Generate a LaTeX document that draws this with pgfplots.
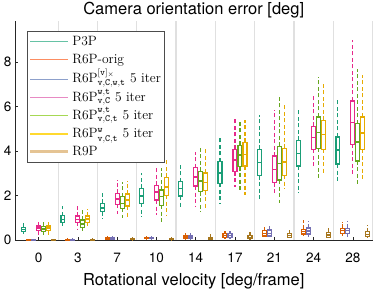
\documentclass[border=0pt]{standalone}
\usepackage{fontspec}
\newfontfamily\hv{TeX Gyre Heros}
\usepackage{pgfplots}
\pgfplotsset{compat=1.18}
\usepgfplotslibrary{statistics}
\definecolor{cA}{HTML}{1B9E77}
\definecolor{cB}{HTML}{D95F02}
\definecolor{cC}{HTML}{7570B3}
\definecolor{cD}{HTML}{E7298A}
\definecolor{cE}{HTML}{66A61E}
\definecolor{cF}{HTML}{E6AB02}
\definecolor{cG}{HTML}{A6761D}
\definecolor{lA}{HTML}{66C2A5}
\definecolor{lB}{HTML}{FC8D62}
\definecolor{lC}{HTML}{8DA0CB}
\definecolor{lD}{HTML}{E78AC3}
\definecolor{lE}{HTML}{A6D854}
\definecolor{lF}{HTML}{FFD92F}
\definecolor{lG}{HTML}{E5C494}
% pos, colour, lower whisker, q1, median, q3, upper whisker
\newcommand{\bp}[7]{\addplot[draw=#2, line width=1.15pt, forget plot,
  boxplot prepared={draw direction=y, draw position=#1, lower whisker=#3, lower quartile=#4,
  median=#5, upper quartile=#6, upper whisker=#7, box extend=0.1, whisker extend=0,
  every whisker/.style={dash pattern=on 4pt off 2.5pt},
  every median/.style={line width=1.6pt}}] coordinates {};}
\newcommand{\st}{\rule[-5.6pt]{0pt}{18.2pt}}
\newcommand{\legline}[2][1.2pt]{\textcolor{#2}{\rule[3pt]{37.7pt}{#1}}}
\begin{document}
\begin{tikzpicture}
\begin{axis}[name=ax,
  scale only axis, width=357.5pt, height=219pt,
  xmin=-0.6, xmax=8.5, ymin=0, ymax=9.86, clip=false,
  axis lines=left, axis line style={-, draw=black!85, line width=0.6pt},
  xtick={0,1,2,3,4,5,6,7,8}, xticklabels={0,3,7,10,14,17,21,24,28},
  minor xtick={0.5,1.5,2.5,3.5,4.5,5.5,6.5,7.5,8.5},
  xminorgrids, minor grid style={draw=black!12, line width=1.2pt},
  minor tick length=0pt,
  ytick={0,2,4,6,8},
  tick align=inside, major tick length=3pt,
  tick style={black!85, line width=0.6pt},
  ticklabel style={font=\hv\fontsize{13.5}{15}\selectfont},
  xticklabel style={anchor=base, yshift=-22.7pt},
  /pgf/number format/assume math mode=true,
  title={Camera orientation error [deg]},
  title style={font=\hv\fontsize{16.5}{18}\selectfont, anchor=base},
  xlabel={Rotational velocity [deg/frame]},
  xlabel style={font=\hv\fontsize{16.5}{18}\selectfont, at={(0.5,0)}, anchor=base, yshift=-45.7pt},
]
% group 0
\bp{-0.381}{cA}{0.25}{0.37}{0.47}{0.57}{0.77}
\bp{-0.254}{cB}{0.00}{0.00}{0.02}{0.04}{0.06}
\bp{-0.127}{cC}{0.00}{0.00}{0.02}{0.04}{0.06}
\bp{0}{cD}{0.22}{0.42}{0.53}{0.63}{0.88}
\bp{0.127}{cE}{0.20}{0.40}{0.50}{0.62}{0.82}
\bp{0.254}{cF}{0.22}{0.42}{0.53}{0.63}{0.85}
\bp{0.381}{cG}{0.00}{0.00}{0.02}{0.04}{0.06}
% group 1
\bp{0.619}{cA}{0.53}{0.80}{0.93}{1.09}{1.53}
\bp{0.746}{cB}{0.00}{0.00}{0.02}{0.04}{0.07}
\bp{0.873}{cC}{0.00}{0.00}{0.02}{0.04}{0.07}
\bp{1}{cD}{0.49}{0.80}{0.93}{1.08}{1.54}
\bp{1.127}{cE}{0.37}{0.57}{0.72}{0.90}{1.38}
\bp{1.254}{cF}{0.60}{0.80}{0.95}{1.08}{1.41}
\bp{1.381}{cG}{0.00}{0.00}{0.02}{0.04}{0.07}
% group 2
\bp{1.619}{cA}{0.94}{1.27}{1.45}{1.65}{2.20}
\bp{1.746}{cB}{0.00}{0.03}{0.06}{0.10}{0.16}
\bp{1.873}{cC}{0.00}{0.03}{0.06}{0.10}{0.16}
\bp{2}{cD}{1.15}{1.60}{1.85}{2.10}{2.70}
\bp{2.127}{cE}{0.98}{1.42}{1.65}{1.95}{2.62}
\bp{2.254}{cF}{1.05}{1.53}{1.80}{2.07}{2.67}
\bp{2.381}{cG}{0.00}{0.02}{0.04}{0.07}{0.12}
% group 3
\bp{2.619}{cA}{1.02}{1.65}{1.99}{2.32}{3.03}
\bp{2.746}{cB}{0.01}{0.05}{0.08}{0.13}{0.20}
\bp{2.873}{cC}{0.01}{0.05}{0.08}{0.13}{0.20}
\bp{3}{cD}{1.12}{1.80}{2.17}{2.47}{3.30}
\bp{3.127}{cE}{0.82}{1.57}{1.95}{2.25}{3.22}
\bp{3.254}{cF}{1.12}{2.02}{2.40}{2.82}{3.60}
\bp{3.381}{cG}{0.00}{0.02}{0.04}{0.07}{0.12}
% group 4
\bp{3.619}{cA}{1.42}{1.98}{2.32}{2.62}{3.42}
\bp{3.746}{cB}{0.02}{0.07}{0.12}{0.18}{0.30}
\bp{3.873}{cC}{0.02}{0.07}{0.12}{0.18}{0.30}
\bp{4}{cD}{1.54}{2.43}{2.85}{3.25}{3.97}
\bp{4.127}{cE}{1.27}{2.17}{2.67}{3.10}{4.12}
\bp{4.254}{cF}{1.35}{2.22}{2.59}{3.02}{4.17}
\bp{4.381}{cG}{0.01}{0.04}{0.08}{0.13}{0.25}
% group 5
\bp{4.619}{cA}{1.65}{2.55}{3.02}{3.52}{4.64}
\bp{4.746}{cB}{0.04}{0.12}{0.20}{0.28}{0.42}
\bp{4.873}{cC}{0.04}{0.12}{0.20}{0.28}{0.42}
\bp{5}{cD}{2.40}{3.07}{3.60}{4.08}{5.54}
\bp{5.127}{cE}{2.25}{3.30}{3.82}{4.27}{5.32}
\bp{5.254}{cF}{2.02}{3.33}{3.85}{4.39}{5.40}
\bp{5.381}{cG}{0.02}{0.07}{0.12}{0.20}{0.37}
% group 6
\bp{5.619}{cA}{1.80}{2.89}{3.49}{4.09}{5.65}
\bp{5.746}{cB}{0.12}{0.18}{0.30}{0.42}{0.67}
\bp{5.873}{cC}{0.15}{0.18}{0.30}{0.45}{0.72}
\bp{6}{cD}{2.02}{2.58}{3.18}{3.78}{5.84}
\bp{6.127}{cE}{1.68}{2.70}{3.45}{4.22}{6.52}
\bp{6.254}{cF}{2.32}{2.92}{3.52}{4.12}{6.07}
\bp{6.381}{cG}{0.10}{0.12}{0.20}{0.30}{0.45}
% group 7
\bp{6.619}{cA}{2.10}{3.33}{3.90}{4.49}{5.92}
\bp{6.746}{cB}{0.18}{0.27}{0.38}{0.49}{0.90}
\bp{6.873}{cC}{0.15}{0.27}{0.40}{0.54}{0.87}
\bp{7}{cD}{3.30}{4.08}{4.62}{5.12}{6.56}
\bp{7.127}{cE}{2.77}{4.12}{4.84}{5.54}{7.34}
\bp{7.254}{cF}{3.00}{4.09}{4.75}{5.39}{7.12}
\bp{7.381}{cG}{0.10}{0.12}{0.23}{0.35}{0.64}
% group 8
\bp{7.619}{cA}{2.55}{3.42}{4.04}{4.64}{6.37}
\bp{7.746}{cB}{0.18}{0.30}{0.42}{0.52}{0.82}
\bp{7.873}{cC}{0.15}{0.30}{0.42}{0.52}{0.85}
\bp{8}{cD}{2.85}{4.31}{5.29}{6.26}{8.99}
\bp{8.127}{cE}{2.47}{3.56}{4.42}{5.24}{7.72}
\bp{8.254}{cF}{2.73}{4.08}{4.82}{5.54}{7.42}
\bp{8.381}{cG}{0.10}{0.15}{0.25}{0.37}{0.67}
% legend
\node[draw=black!70, line width=0.6pt, fill=white, anchor=north west,
  inner xsep=3.3pt, inner ysep=1.2pt, font=\fontsize{13.5}{16}\selectfont]
  at (rel axis cs:0.0327,0.954) {%
  \renewcommand{\arraystretch}{0.5}%
  \begin{tabular}{@{}l@{\hspace{4.3pt}}l@{}}
  \legline{lA} & \st P3P\\
  \legline{lB} & \st R6P-orig\\
  \legline{lC} & \st R6P$^{[\mathtt{v}]_\times}_{\mathtt{v,C,w,t}}$ 5 iter\\
  \legline{lD} & \st R6P$^{\mathtt{w,t}}_{\mathtt{v,C}}$ 5 iter\\
  \legline{lE} & \st R6P$^{\mathtt{w,t}}_{\mathtt{v,C,t}}$ 5 iter\\
  \legline{lF} & \st R6P$^{\mathtt{w}}_{\mathtt{v,C,t}}$ 5 iter\\
  \legline[2.6pt]{lG} & \st R9P
  \end{tabular}};
\end{axis}
\pgfresetboundingbox
\path[use as bounding box] ([xshift=-15pt,yshift=-49pt]ax.south west) rectangle ([xshift=1.5pt,yshift=21pt]ax.north east);
\end{tikzpicture}
\end{document}
